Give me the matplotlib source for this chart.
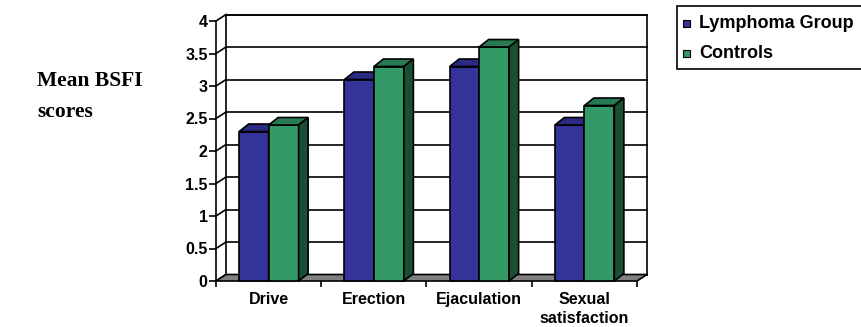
import matplotlib
matplotlib.use("Agg")
import matplotlib.pyplot as plt
from matplotlib.patches import Polygon, Rectangle

# Data
categories = ["Drive", "Erection", "Ejaculation", "Sexual\nsatisfaction"]
series_names = ["Lymphoma Group", "Controls"]
lymphoma = [2.3, 3.1, 3.3, 2.4]
controls = [2.4, 3.3, 3.6, 2.7]
y_ticks = [0, 0.5, 1, 1.5, 2, 2.5, 3, 3.5, 4]
y_tick_labels = ["0", "0.5", "1", "1.5", "2", "2.5", "3", "3.5", "4"]

W, H = 862, 327
fig = plt.figure(figsize=(W / 100, H / 100), dpi=100)

# plot area (front plane) in pixel coordinates
x0, x1 = 216, 637
y_top, y_bot = 21, 281
ax = fig.add_axes([x0 / W, 1 - y_bot / H, (x1 - x0) / W, (y_bot - y_top) / H])
n = len(categories)
ymax = 4
ax.set_xlim(0, n)
ax.set_ylim(0, ymax)

px_x = n / (x1 - x0)
px_y = ymax / (y_bot - y_top)

# depth offsets (walls and columns)
dxw, dyw = 10 * px_x, 6.5 * px_y
dxb, dyb = 9.5 * px_x, 7.5 * px_y

lw = 1.2
k = dict(clip_on=False)

# back wall
ax.add_patch(Polygon([(dxw, dyw), (n + dxw, dyw), (n + dxw, ymax + dyw), (dxw, ymax + dyw)],
                     closed=True, facecolor="white", edgecolor="black", lw=lw, zorder=1, **k))
for v in y_ticks:
    ax.plot([dxw, n + dxw], [v + dyw, v + dyw], color="black", lw=lw, zorder=2, **k)
    ax.plot([0, dxw], [v, v + dyw], color="black", lw=lw, zorder=2, **k)
ax.plot([0, 0], [0, ymax], color="black", lw=lw, zorder=2, **k)

# floor
ax.add_patch(Polygon([(0, 0), (n, 0), (n + dxw, dyw), (dxw, dyw)], closed=True,
                     facecolor="#808080", edgecolor="black", lw=lw, zorder=3, **k))

colors = {
    "Lymphoma Group": ("#333399", "#2a2a82", "#222266"),
    "Controls": ("#339966", "#287a52", "#1a4f34"),
}
offsets = [(0.22, 0.50), (0.50, 0.785)]


def draw_column(xl, xr, h, front, top, side, z):
    ax.add_patch(Polygon([(xl, 0), (xr, 0), (xr, h), (xl, h)], closed=True,
                         facecolor=front, edgecolor="black", lw=lw, zorder=z, **k))
    ax.add_patch(Polygon([(xl, h), (xr, h), (xr + dxb, h + dyb), (xl + dxb, h + dyb)], closed=True,
                         facecolor=top, edgecolor="black", lw=lw, zorder=z, **k))
    ax.add_patch(Polygon([(xr, 0), (xr + dxb, dyb), (xr + dxb, h + dyb), (xr, h)], closed=True,
                         facecolor=side, edgecolor="black", lw=lw, zorder=z, **k))


for i in range(n):
    for j, (name, vals) in enumerate(zip(series_names, [lymphoma, controls])):
        front, top, side = colors[name]
        a, b = offsets[j]
        draw_column(i + a, i + b, vals[i], front, top, side, 4 + j)

# axes and ticks
for s in ax.spines.values():
    s.set_visible(False)
ax.set_yticks(y_ticks)
ax.set_yticklabels(y_tick_labels, fontfamily="Liberation Sans", fontweight="bold", fontsize=11.5)
ax.tick_params(axis="y", length=5, width=1.2, pad=1, color="black")
ax.set_xticks(range(n + 1))
ax.set_xticklabels([""] * (n + 1))
ax.tick_params(axis="x", which="major", length=4, width=1.2, color="black")
ax.set_xticks([i + 0.5 for i in range(n)], minor=True)
ax.set_xticklabels(categories, minor=True, fontfamily="Liberation Sans", fontweight="bold",
                   fontsize=11.5, linespacing=1.35)
ax.tick_params(axis="x", which="minor", length=0, pad=8)

# side title
for line, base in zip(["Mean BSFI", "scores"], [86, 117]):
    fig.text(37 / W, 1 - base / H, line, fontfamily="Liberation Serif", fontweight="bold",
             fontsize=15.5, ha="left", va="baseline")

# legend
fig.patches.append(Rectangle((677 / W, 1 - 69 / H), 190 / W, 63 / H, transform=fig.transFigure,
                             facecolor="white", edgecolor="black", lw=1.2, figure=fig))
for name, yc in zip(series_names, [23.5, 53.5]):
    fig.patches.append(Rectangle((683 / W, 1 - (yc + 3.8) / H), 7.5 / W, 7.5 / H, transform=fig.transFigure,
                                 facecolor=colors[name][0], edgecolor="black", lw=0.8, figure=fig))
    fig.text(699 / W, 1 - yc / H, name, fontfamily="Liberation Sans", fontweight="bold",
             fontsize=13, ha="left", va="center")

fig.savefig("out.png", dpi=100)
